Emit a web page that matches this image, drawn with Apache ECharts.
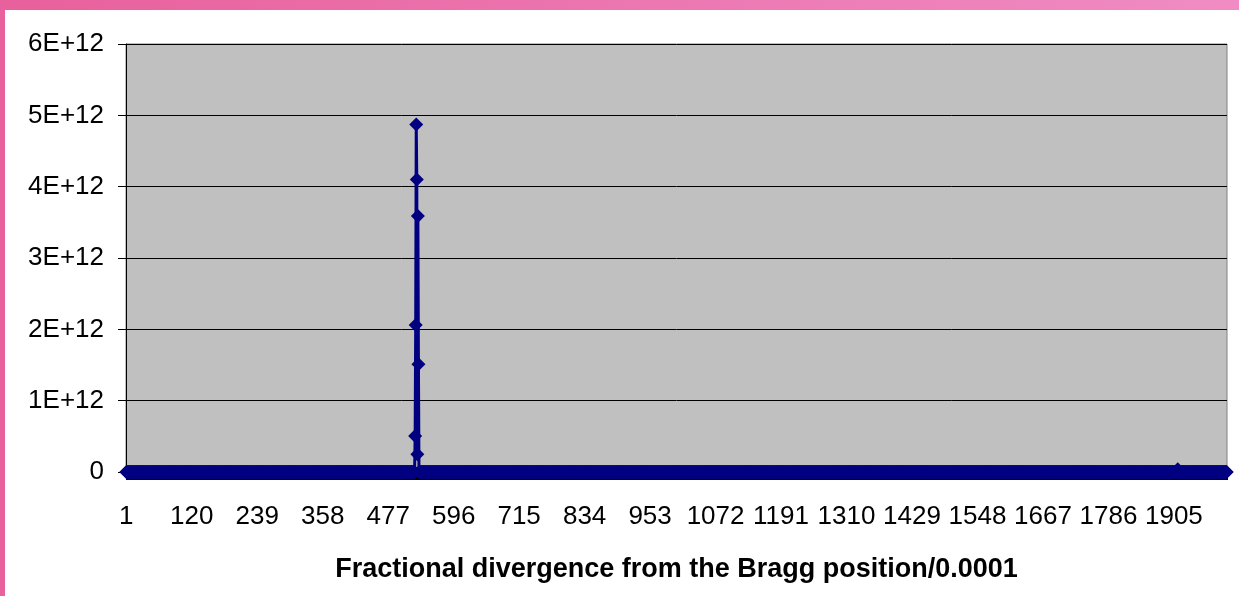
<!DOCTYPE html>
<html>
<head>
<meta charset="utf-8">
<script src="https://cdn.jsdelivr.net/npm/echarts@6/dist/echarts.min.js"></script>
<style>
  html, body { margin: 0; padding: 0; }
  body {
    width: 1239px; height: 596px; overflow: hidden;
    background: linear-gradient(to right, #e8609c, #f08cc4);
    position: relative;
  }
  #chart {
    position: absolute; left: 5px; top: 10px;
    width: 1234px; height: 586px; background: #fff;
  }
</style>
</head>
<body>
<div id="chart"></div>
<script>
// Reflectivity vs divergence — mostly zero, one sharp peak near 529

const catCount = 2001;
const categories = [];
for (let i = 1; i <= catCount; i++) categories.push(String(i));

// non-zero points (category number, value)
const peakCats = [526, 527, 528, 529, 530, 531, 532, 1912];
const peakValues = [0.505e12, 2.06e12, 4.87e12, 4.10e12, 0.25e12, 3.59e12, 1.51e12, 0.04e12];

const yTicks = [0, 1e12, 2e12, 3e12, 4e12, 5e12, 6e12];

const values = categories.map(() => 0);
peakCats.forEach((c, i) => { values[c - 1] = peakValues[i]; });

const dom = document.getElementById('chart');
const chart = echarts.init(dom);

const font = 'Liberation Sans, Arial, sans-serif';

const option = {
    animation: false,
    grid: {
        left: 121, right: 12, top: 34, bottom: 124,
        show: true,
        backgroundColor: '#c0c0c0',
        borderColor: '#808080',
        borderWidth: 1
    },
    xAxis: {
        type: 'category',
        data: categories,
        boundaryGap: true,
        name: 'Fractional divergence from the Bragg position/0.0001',
        nameLocation: 'middle',
        nameGap: 84,
        nameTextStyle: { fontFamily: font, fontSize: 27, fontWeight: 'bold', color: '#000' },
        axisLine: { lineStyle: { color: '#000' } },
        axisTick: { show: true, interval: 0, length: 8, lineStyle: { color: '#000' } },
        axisLabel: { interval: 118, fontFamily: font, fontSize: 26, color: '#000', margin: 32 }
    },
    yAxis: {
        type: 'value',
        min: yTicks[0],
        max: yTicks[yTicks.length - 1],
        interval: 1e12,
        axisLine: { show: true, lineStyle: { color: '#000' } },
        axisTick: { show: true, length: 8, lineStyle: { color: '#000' } },
        axisLabel: {
            fontFamily: font, fontSize: 26, color: '#000', margin: 22,
            formatter: v => v === 0 ? '0' : (v / 1e12) + 'E+12'
        },
        splitLine: { lineStyle: { color: '#000', width: 1 } }
    },
    series: [
        {
            type: 'line',
            data: values,
            showAllSymbol: true,
            symbol: 'diamond',
            symbolSize: 14,
            itemStyle: { color: '#000080' },
            lineStyle: { color: '#000080', width: 3 }
        }
    ]
};

chart.setOption(option);
</script>
</body>
</html>
